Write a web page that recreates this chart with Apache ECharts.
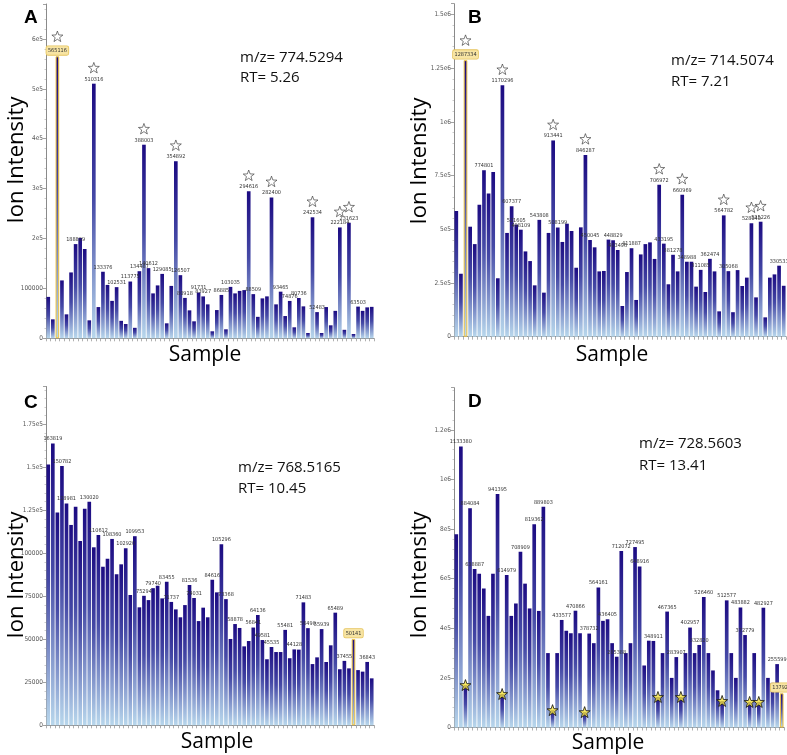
<!DOCTYPE html>
<html><head><meta charset="utf-8">
<script src="https://cdn.jsdelivr.net/npm/echarts@6/dist/echarts.min.js"></script>
<style>html,body{margin:0;padding:0;background:#fff}#c{width:787px;height:755px}</style>
</head><body><div id="c"></div>
<script>
// ---------- DATA ----------
const samples = [];
for (let i = 1; i <= 72; i++) samples.push(String(i));

const valuesA = [83000,38000,565116,116000,48000,132000,188809,201000,179000,36000,
  510316,62600,133376,107000,75000,102531,35000,28600,113775,21000,
  134487,388003,140612,90000,106000,129085,30000,105000,354892,126507,
  80918,56000,34000,91731,83927,68000,14000,56600,86885,18000,
  103035,90000,95000,96600,294616,88509,43000,80000,84000,282400,
  68000,93465,44600,74876,22000,80736,64000,10600,242534,52483,
  10600,62600,26000,55000,222184,17000,231623,8600,63503,55000,
  62000,63000];
const labeledA = [3,7,11,13,16,19,21,22,23,26,29,30,31,34,35,39,41,45,46,50,52,54,56,59,60,65,67,69];
const highlightA = 3;

const valuesB = [585000,293000,1287334,512000,431000,614000,774801,667000,767000,272000,
  1170296,483000,607377,521605,498109,397000,352000,239000,543808,205000,
  483000,913441,508199,441000,526000,492000,321000,509000,846287,450045,
  416000,304000,306000,452000,448829,403496,143000,301000,411887,171000,
  383000,431000,439000,362000,706972,433195,244000,381278,304000,660969,
  348988,349000,233000,311085,208000,362474,304000,118000,564782,305068,
  114000,310000,236000,275000,528040,183000,535226,90000,275000,290000,
  330533,237000];
const labeledB = [3,7,11,13,14,15,19,22,23,29,30,35,36,39,45,46,48,50,51,54,56,59,60,65,67,71];
const highlightB = 3;

const valuesC = [151700,163819,123800,150782,128981,116500,127100,107150,125900,130020,
  103500,110612,92200,96900,108360,87800,93600,102920,75700,109953,
  68600,75294,72800,79740,81200,73800,83455,71737,67400,62800,
  69900,81536,74031,60600,68400,62800,84616,77300,105296,73368,
  50200,58878,56600,45900,49000,56841,64136,49581,38400,45535,
  42600,42600,55481,39000,44128,44000,71483,56490,35600,39500,
  55939,36800,46500,65489,32600,37455,33100,50141,32100,31200,
  36843,27300];
const labeledC = [2,4,5,10,12,15,18,20,22,24,27,28,32,33,37,39,40,42,46,47,48,50,53,55,57,58,61,64,66,68,71];
const highlightC = 68;

const valuesD = [779000,1133380,171000,884084,638887,620000,560000,450000,620000,941395,
  135000,614979,450000,500000,708909,580000,480000,819362,470000,889803,
  300000,70000,300000,433577,390000,380000,470866,380000,62000,378732,
  340000,564161,430000,436405,340000,285388,712072,300000,340000,727495,
  648916,250000,350000,348911,123000,300000,467365,200000,283907,123000,
  300000,402957,300000,332820,526460,300000,230000,150000,107000,512577,
  300000,200000,483882,372779,103000,300000,103000,482927,200000,180000,
  255599,137923];
const labeledD = [2,4,5,10,12,15,18,20,24,27,30,32,34,36,37,40,41,44,47,49,52,54,55,60,63,64,68,71,72];
const highlightD = 72;

const starred = [3,11,22,29,45,50,59,65,67];

const tickLabelsA = {0:'0',100000:'100000',200000:'2e5',300000:'3e5',400000:'4e5',500000:'5e5',600000:'6e5'};
const tickLabelsB = {0:'0',250000:'2.5e5',500000:'5e5',750000:'7.5e5',1000000:'1e6',1250000:'1.25e6',1500000:'1.5e6'};
const tickLabelsC = {0:'0',25000:'25000',50000:'50000',75000:'75000',100000:'100000',125000:'1.25e5',150000:'1.5e5',175000:'1.75e5'};
const tickLabelsD = {0:'0',200000:'2e5',400000:'4e5',600000:'6e5',800000:'8e5',1000000:'1e6',1200000:'1.2e6'};

const titles = ['A','B','C','D'];
const mzTexts = ['m/z= 774.5294','m/z= 714.5074','m/z= 768.5165','m/z= 728.5603'];
const rtTexts = ['RT= 5.26','RT= 7.21','RT= 10.45','RT= 13.41'];

// ---------- CHART ----------
const chart = echarts.init(document.getElementById('c'), null, {renderer:'canvas'});
const barGrad = new echarts.graphic.LinearGradient(0,0,0,1,[
  {offset:0, color:'#1c0b82'},
  {offset:0.45, color:'#4549a6'},
  {offset:1, color:'#b8d7ec'}
]);
const LBL_FONT = '"Liberation Sans Narrow","DejaVu Sans Condensed",sans-serif';
const starPath = 'path://M12,0.5 L14.9,8.6 L23.5,8.9 L16.7,14.2 L19.1,22.5 L12,17.6 L4.9,22.5 L7.3,14.2 L0.5,8.9 L9.1,8.6 Z';

function buildBars(values, labeled, highlight) {
  return values.map((v, i) => {
    const n = i + 1;
    const item = {value: v};
    if (labeled.indexOf(n) >= 0) item.label = {show: true};
    if (n === highlight) {
      item.itemStyle = {borderColor: '#eec33f', borderWidth: 1};
      item.label = {show: true, backgroundColor: '#f7e4a3', borderColor: '#e6c45c',
        borderWidth: 0.8, borderRadius: 1.5, padding: [1.5, 1.5, 1, 1.5]};
    }
    return item;
  });
}

const grids = [
  {left: 46, top: 4, width: 328, height: 334.3},
  {left: 454, top: 3.7, width: 332, height: 333},
  {left: 46, top: 386.5, width: 328, height: 338.8},
  {left: 454, top: 387.7, width: 330, height: 339.8}
];
const yMax = [670000, 1550000, 197000, 1370000];
const yInt = [100000, 250000, 25000, 200000];
const tickMaps = [tickLabelsA, tickLabelsB, tickLabelsC, tickLabelsD];
const allValues = [valuesA, valuesB, valuesC, valuesD];
const allLabeled = [labeledA, labeledB, labeledC, labeledD];
const allHigh = [highlightA, highlightB, highlightC, highlightD];

const xAxes = [], yAxes = [], series = [];
for (let k = 0; k < 4; k++) {
  xAxes.push({
    type: 'category', gridIndex: k, data: samples, boundaryGap: true,
    axisLine: {show: true, lineStyle: {color: '#8a8a8a', width: 1}},
    axisTick: {show: true, interval: 0, length: 3, lineStyle: {color: '#9a9a9a', width: 0.8}},
    axisLabel: {show: false}, splitLine: {show: false}
  });
  const map = tickMaps[k];
  yAxes.push({
    type: 'value', gridIndex: k, min: 0, max: yMax[k], interval: yInt[k],
    axisLine: {show: true, lineStyle: {color: '#8a8a8a', width: 1}},
    axisTick: {show: true, length: 3, lineStyle: {color: '#8a8a8a', width: 0.8}},
    minorTick: {show: true, splitNumber: 5, length: 1.5, lineStyle: {color: '#aaa', width: 0.6}},
    splitLine: {show: false},
    axisLabel: {fontSize: 6.5, color: '#555', margin: 3, fontFamily: LBL_FONT,
      showMaxLabel: false,
      formatter: v => (map[v] !== undefined ? map[v] : '')}
  });
  series.push({
    type: 'bar', xAxisIndex: k, yAxisIndex: k,
    data: buildBars(allValues[k], allLabeled[k], allHigh[k]),
    barCategoryGap: '20%',
    itemStyle: {color: barGrad},
    label: {show: false, position: 'top', distance: 1.5, fontSize: 5.5,
      fontFamily: LBL_FONT, color: '#333'},
    emphasis: {disabled: true}, animation: false
  });
}
for (let k = 0; k < 2; k++) {
  const vals = allValues[k];
  series.push({
    type: 'scatter', xAxisIndex: k, yAxisIndex: k,
    data: starred.map(s => ({value: [s - 1, vals[s - 1]],
      symbolOffset: [0, s === allHigh[k] ? -20 : -16]})),
    symbol: starPath, symbolSize: [11, 11], symbolKeepAspect: true,
    itemStyle: {color: '#ffffff', borderColor: '#333', borderWidth: 0.8},
    z: 5, silent: true, animation: false
  });
}
series.push({
  type: 'scatter', xAxisIndex: 3, yAxisIndex: 3,
  data: starred.map(s => [s - 1, valuesD[s - 1]]),
  symbol: starPath, symbolSize: [11, 11],
  itemStyle: {color: '#f5e33c', borderColor: '#111', borderWidth: 1},
  z: 5, silent: true, animation: false
});

const titlePos = [[24, 8], [468, 8], [24, 393], [468, 392]];
const mzPos = [[240, 57.5, 77.5], [671, 61, 82], [238, 468, 489], [639, 444, 466]];
const ionPos = [[17, 160], [420, 161], [17, 575], [420, 575]];
const samplePos = [[205, 355], [612, 355], [217, 742], [608, 743]];
const graphic = [];
for (let k = 0; k < 4; k++) {
  graphic.push({type: 'text', x: titlePos[k][0], y: titlePos[k][1],
    style: {text: titles[k], font: 'bold 19px "Liberation Sans", Arial, sans-serif', fill: '#000',
      align: 'left', verticalAlign: 'top'}});
  graphic.push({type: 'text', x: mzPos[k][0], y: mzPos[k][1],
    style: {text: mzTexts[k], font: '15px "Open Sans", sans-serif', fill: '#111',
      align: 'left', verticalAlign: 'middle'}});
  graphic.push({type: 'text', x: mzPos[k][0], y: mzPos[k][2],
    style: {text: rtTexts[k], font: '15px "Open Sans", sans-serif', fill: '#111',
      align: 'left', verticalAlign: 'middle'}});
  graphic.push({type: 'text', x: ionPos[k][0], y: ionPos[k][1], rotation: Math.PI / 2,
    style: {text: 'Ion Intensity', font: '22px "Open Sans", sans-serif', fill: '#000',
      align: 'center', verticalAlign: 'middle'}});
  graphic.push({type: 'text', x: samplePos[k][0], y: samplePos[k][1],
    style: {text: 'Sample', font: '21px "Open Sans", sans-serif', fill: '#000',
      align: 'center', verticalAlign: 'middle'}});
}

chart.setOption({
  animation: false,
  backgroundColor: '#ffffff',
  grid: grids.map(g => Object.assign({containLabel: false, outerBoundsMode: 'none'}, g)),
  xAxis: xAxes, yAxis: yAxes, series: series, graphic: graphic
});
</script>
</body></html>
